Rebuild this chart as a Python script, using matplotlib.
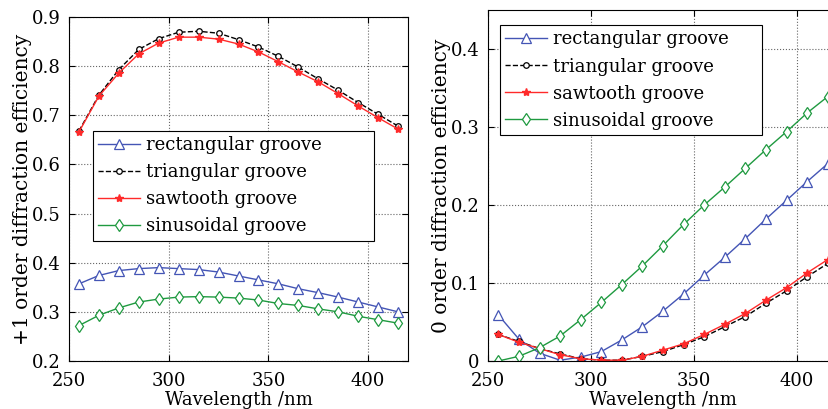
import numpy as np
import matplotlib.pyplot as plt

plt.rcParams['font.family'] = ['DejaVu Serif']
plt.rcParams['mathtext.fontset'] = 'dejavuserif'

wavelength = [255, 265, 275, 285, 295, 305, 315, 325, 335, 345, 355, 365, 375, 385, 395, 405, 415]

# +1 order efficiency
p1_rect = [0.357, 0.374, 0.384, 0.388, 0.390, 0.388, 0.386, 0.381, 0.373, 0.365, 0.357, 0.347, 0.339, 0.330, 0.320, 0.310, 0.300]
p1_tri = [0.668, 0.741, 0.793, 0.834, 0.856, 0.869, 0.871, 0.867, 0.854, 0.839, 0.820, 0.798, 0.774, 0.751, 0.726, 0.702, 0.678]
p1_saw = [0.666, 0.739, 0.786, 0.825, 0.847, 0.859, 0.859, 0.855, 0.845, 0.829, 0.809, 0.788, 0.768, 0.744, 0.719, 0.695, 0.672]
p1_sin = [0.272, 0.293, 0.308, 0.320, 0.326, 0.330, 0.331, 0.330, 0.328, 0.324, 0.317, 0.313, 0.306, 0.300, 0.291, 0.284, 0.277]

# 0 order efficiency
z_rect = [0.059, 0.028, 0.010, 0.001, 0.005, 0.012, 0.027, 0.044, 0.064, 0.086, 0.110, 0.133, 0.157, 0.182, 0.206, 0.230, 0.253]
z_tri = [0.034, 0.025, 0.016, 0.009, 0.003, 0.001, 0.001, 0.006, 0.012, 0.021, 0.031, 0.044, 0.057, 0.074, 0.090, 0.108, 0.125]
z_saw = [0.034, 0.024, 0.016, 0.008, 0.003, 0.001, 0.001, 0.006, 0.014, 0.022, 0.034, 0.047, 0.061, 0.078, 0.094, 0.113, 0.130]
z_sin = [0.000, 0.006, 0.017, 0.032, 0.053, 0.075, 0.098, 0.122, 0.148, 0.175, 0.200, 0.223, 0.247, 0.271, 0.294, 0.318, 0.339]

labels = ['rectangular groove', 'triangular groove', 'sawtooth groove', 'sinusoidal groove']
blue, red, green = '#4455b5', '#ff2a2a', '#1f9a40'


def draw(ax, rect, tri, saw, sin):
    ax.plot(wavelength, rect, '-', color=blue, lw=1.0, marker='^', ms=6.5,
            mfc='white', mec=blue, mew=0.9, label=labels[0])
    ax.plot(wavelength, tri, '--', color='black', lw=1.0, marker='o', ms=4,
            mfc='white', mec='black', mew=0.9, label=labels[1])
    ax.plot(wavelength, saw, '-', color=red, lw=1.0, marker='*', ms=6,
            mfc=red, mec=red, label=labels[2])
    ax.plot(wavelength, sin, '-', color=green, lw=1.0, marker='d', ms=6.5,
            mfc='white', mec=green, mew=0.9, label=labels[3])
    ax.grid(True, ls=':', color='#666666', lw=0.8)
    ax.tick_params(direction='in', top=True, right=True, labelsize=13, length=4)
    ax.tick_params(axis='x', pad=8)
    ax.tick_params(axis='y', pad=6)
    ax.set_xlabel('Wavelength /nm', fontsize=13, labelpad=1)
    ax.set_xlim(250, 420)
    ax.set_xticks([250, 300, 350, 400])


def add_legend(ax, box):
    leg = ax.legend(loc='upper left', bbox_to_anchor=box, mode='expand',
                    fontsize=13, fancybox=False, edgecolor='black',
                    framealpha=1, handlelength=2.3, handletextpad=0.35,
                    labelspacing=0.5, borderpad=0.3, borderaxespad=0)
    leg.get_frame().set_linewidth(0.8)


fig = plt.figure(figsize=(8.29, 4.09), dpi=100)

ax1 = fig.add_axes([0.0832, 0.1174, 0.409, 0.8410])
draw(ax1, p1_rect, p1_tri, p1_saw, p1_sin)
ax1.set_ylim(0.2, 0.9)
ax1.set_yticks(np.arange(0.2, 0.91, 0.1))
ax1.set_yticklabels(['0.2', '0.3', '0.4', '0.5', '0.6', '0.7', '0.8', '0.9'])
ax1.set_ylabel('+1 order diffraction efficiency', fontsize=14.5)
ax1.yaxis.set_label_coords(-0.108, 0.5)
add_legend(ax1, (0.071, 0.35, 0.829, 0.319))

ax2 = fig.add_axes([0.5887, 0.1174, 0.4222, 0.8582])
draw(ax2, z_rect, z_tri, z_saw, z_sin)
ax2.set_ylim(0, 0.45)
ax2.set_yticks([0, 0.1, 0.2, 0.3, 0.4])
ax2.set_yticklabels(['0', '0.1', '0.2', '0.3', '0.4'])
ax2.set_ylabel('0 order diffraction efficiency', fontsize=14.5)
ax2.yaxis.set_label_coords(-0.106, 0.5)
add_legend(ax2, (0.034, 0.632, 0.749, 0.325))

fig.savefig('out.png', dpi=100)
